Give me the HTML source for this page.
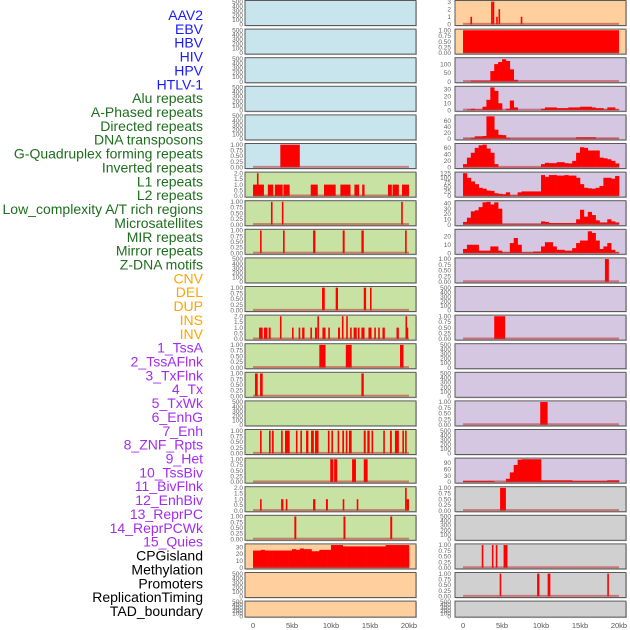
<!DOCTYPE html>
<html><head><meta charset="utf-8"><style>
html,body{margin:0;padding:0;background:#fff;}
svg{display:block;font-family:"Liberation Sans",sans-serif;}
</style></head><body>
<svg id="chart" width="630" height="630" viewBox="0 0 630 630" xmlns="http://www.w3.org/2000/svg"></svg>
<script>
const labels=["AAV2","EBV","HBV","HIV","HPV","HTLV-1","Alu repeats","A-Phased repeats","Directed repeats","DNA transposons","G-Quadruplex forming repeats","Inverted repeats","L1 repeats","L2 repeats","Low_complexity A/T rich regions","Microsatellites","MIR repeats","Mirror repeats","Z-DNA motifs","CNV","DEL","DUP","INS","INV","1_TssA","2_TssAFlnk","3_TxFlnk","4_Tx","5_TxWk","6_EnhG","7_Enh","8_ZNF_Rpts","9_Het","10_TssBiv","11_BivFlnk","12_EnhBiv","13_ReprPC","14_ReprPCWk","15_Quies","CPGisland","Methylation","Promoters","ReplicationTiming","TAD_boundary"];
const labelGroups=["v","v","v","v","v","v","r","r","r","r","r","r","r","r","r","r","r","r","r","s","s","s","s","s","c","c","c","c","c","c","c","c","c","c","c","c","c","c","c","o","o","o","o","o"];
const xTicks=[0,5,10,15,20];
const xTickLabels=["0","5kb","10kb","15kb","20kb"];
// segment data: [startKb, endKb, value]
const htlv1=[[3.5,6.0,1]];
const alu=[[0,1.4,1],[0.5,0.6,2],[1.9,2.6,1],[2.8,3.8,1],[3.9,4.7,1],[7.4,8.3,1],[9.1,10.6,1],[11.2,12.5,1],[13,13.6,1],[14,14.3,1],[17.3,17.8,1],[17.9,18.7,1],[19.1,20,1]];
const aPhased=[[2.3,2.5,1],[3.7,3.9,1],[19,19.2,1]];
const directed=[[0.9,1.1,1],[3.85,4.05,1],[7.7,8.0,1],[11.5,11.75,1],[13.9,14.2,1],[19.5,19.7,1]];
const gQuad=[[8.85,9.2,1],[10.6,10.9,1],[14.2,14.5,1],[15,15.2,1]];
const inverted=[[0.77,1.24,1],[1.41,1.84,1],[2.0,2.26,1],[3.45,3.6,2],[5.0,5.15,1],[5.85,6.0,1],[6.3,6.6,1],[7.35,7.5,1],[7.95,8.2,1],[8.25,8.4,2],[8.9,9.3,1],[9.65,9.8,1],[10.9,11.15,1],[11.4,11.55,2],[11.95,12.1,2],[12.45,12.6,1],[12.9,13.3,1],[13.45,13.6,1],[13.9,14.3,1],[14.8,15.2,1],[15.55,15.7,1],[16.05,16.2,1],[16.6,16.9,1],[18.4,18.7,1],[19.55,19.7,2],[19.7,19.8,1]];
const l1=[[8.5,9.3,1],[11.9,12.65,1],[18.85,19.3,1]];
const l2=[[0.25,0.6,1],[0.9,1.24,1],[13.9,14.2,1]];
const microsat=[[0.9,1.1,1],[2.05,2.26,1],[2.44,2.65,1],[3.6,3.8,1],[4.1,4.7,1],[5.5,5.7,1],[6.07,6.24,1],[6.8,7.1,1],[7.44,7.8,1],[7.95,8.4,1],[9.6,9.8,1],[10.05,10.26,1],[10.85,11.0,1],[11.45,11.67,1],[11.9,12.1,1],[12.3,12.65,1],[14.2,14.45,1],[14.66,14.96,1],[15.2,15.4,1],[16.7,16.9,1],[17.56,17.8,1],[18.2,18.7,1],[19.15,19.3,1],[19.5,19.7,1]];
const mir=[[9.9,10.3,1],[10.4,10.8,1],[12.7,13.2,1],[14.2,14.7,1]];
const mirror=[[0.9,1.1,1],[3.6,3.9,1],[4.2,4.4,1],[7.7,8.0,1],[9.35,9.6,1],[11.5,11.7,1],[13.3,13.5,1],[19.5,19.7,2],[19.7,20,1]];
const zdna=[[5.3,5.55,1],[11.6,11.85,1],[17.6,17.85,1]];
const ins=[[0.95,1.15,1],[3.6,3.75,3],[3.8,3.95,3],[4.25,4.45,1],[4.55,4.75,2],[7.4,7.6,1]];
const inv=[[0,20,1]];
const znf=[[18.2,18.7,1]];
const tssBiv=[[4.0,5.4,1]];
const reprPC=[[9.9,10.85,1]];
const cpg=[[4.75,5.5,1]];
const promoters=[[2.4,2.6,1],[3.7,3.9,1],[4.2,4.4,1],[5.2,5.7,1]];
const replTiming=[[4.7,4.9,1],[9.5,9.8,1],[10.85,11.2,1],[18.5,18.7,1]];
// binned profiles (0.5kb bins from 0 to 20kb)
const cnvProfile=[25,25,26,25,25,25,25,25,25,25,27,26,28,27,27,24,24,26,26,26,33,33,33,31,31,31,31,31,31,31,31,31,31,31,33,33,33,33,33,33];
const tssAProfile=[0,0,5,5,5,5,5,60,100,112,128,118,70,10,0,0,0,0,0,0,0,0,0,0,0,0,0,0,0,0,0,0,0,0,0,0,0,0,0,0];
const tssAFlnkProfile=[0,1,2,1,1,5,15,33,28,10,0,2,14,4,0,0,0,0,0,0,2,4,4,4,3,3,3,4,4,4,5,5,5,4,3,3,1,4,4,1];
const txFlnkProfile=[1,1,3,8,8,9,74,74,30,13,12,3,1,1,1,1,1,1,1,1,1,1,1,1,1,1,1,1,1,5,5,5,5,5,1,1,1,1,1,1];
const txProfile=[10,30,45,60,68,70,58,45,10,1,1,1,1,1,1,1,1,1,1,1,10,14,13,13,16,16,13,12,20,45,62,60,52,52,52,30,28,25,20,12];
const txWkProfile=[125,100,80,65,45,40,30,28,15,12,10,20,3,3,20,25,25,25,25,25,115,105,115,115,112,112,115,112,112,100,65,45,42,40,45,55,100,100,95,110];
const enhGProfile=[5,13,25,27,33,42,43,38,42,30,1,1,1,1,1,1,1,1,1,1,6,5,3,3,3,3,3,3,3,10,28,15,24,18,8,4,4,10,6,4];
const enhProfile=[5,10,10,10,3,3,3,8,8,3,1,1,12,18,10,1,1,1,2,2,8,13,13,8,4,4,3,3,6,12,15,15,26,24,15,5,8,12,4,1];
const quiesProfile=[5,5,5,5,5,5,5,5,0,0,0,15,45,80,105,107,107,107,107,107,8,8,8,8,8,8,8,8,5,5,5,5,5,5,5,5,5,8,8,8];
// tick sets
const ticksEmpty=[0,100,200,300,400,500];
const ticksUnit=[0,0.25,0.5,0.75,1];
const ticksTwo=[0,0.5,1,1.5,2];

const E=null;
const U={seg:null,ticks:ticksUnit,max:1,fmt:2};
function S(seg,ticks,max,fmt){return {seg:seg,ticks:ticks,max:max,fmt:fmt};}
function P(prof,ticks,max){return {prof:prof,ticks:ticks,max:max,fmt:0};}
const leftPanels=[E,E,E,E,E,S(htlv1,ticksUnit,1,2),S(alu,ticksTwo,2,1),S(aPhased,ticksUnit,1,2),S(directed,ticksUnit,1,2),E,S(gQuad,ticksUnit,1,2),S(inverted,ticksTwo,2,1),S(l1,ticksUnit,1,2),S(l2,ticksUnit,1,2),E,S(microsat,ticksUnit,1,2),S(mir,ticksUnit,1,2),S(mirror,ticksTwo,2,1),S(zdna,ticksUnit,1,2),P(cnvProfile,[0,10,20,30],33),E,E];
const rightPanels=[S(ins,[0,1,2,3],3,0),S(inv,ticksUnit,1,2),P(tssAProfile,[0,50,100],130),P(tssAFlnkProfile,[0,10,20,30],33),P(txFlnkProfile,[0,20,40,60],75),P(txProfile,[0,20,40,60],70),P(txWkProfile,[0,25,50,75,100,125],125),P(enhGProfile,[0,10,20,30,40],43),P(enhProfile,[0,10,20],27),S(znf,ticksUnit,1,2),E,S(tssBiv,ticksUnit,1,2),E,E,S(reprPC,ticksUnit,1,2),E,P(quiesProfile,[0,30,60,90],107),S(cpg,ticksUnit,1,2),E,S(promoters,ticksUnit,1,2),S(replTiming,ticksUnit,1,2),E];
const leftBg=["#c8e4ec","#c8e4ec","#c8e4ec","#c8e4ec","#c8e4ec","#c8e4ec","#c8e2a4","#c8e2a4","#c8e2a4","#c8e2a4","#c8e2a4","#c8e2a4","#c8e2a4","#c8e2a4","#c8e2a4","#c8e2a4","#c8e2a4","#c8e2a4","#c8e2a4","#ffcf9e","#ffcf9e","#ffcf9e"];
const rightBg=["#ffcf9e","#ffcf9e","#d5c6e2","#d5c6e2","#d5c6e2","#d5c6e2","#d5c6e2","#d5c6e2","#d5c6e2","#d5c6e2","#d5c6e2","#d5c6e2","#d5c6e2","#d5c6e2","#d5c6e2","#d5c6e2","#d5c6e2","#d0d0d0","#d0d0d0","#d0d0d0","#d0d0d0","#d0d0d0"];
const groupColor={v:"#1a1aff",r:"#1e6e1e",s:"#ffa500",c:"#a32cf0",o:"#000000"};

const svg=document.getElementById('chart');
const NS="http://www.w3.org/2000/svg";
function mk(tag,attrs,parent){const el=document.createElementNS(NS,tag);for(const k in attrs)el.setAttribute(k,attrs[k]);(parent||svg).appendChild(el);return el;}
const XMIN=-1.03,XMAX=20.9,PW=171;
const colX=[245,455];
function rowTop(i){return 0.5+28.6*i;}
function rowH(i){return i===21?16:25;}
function xScale(col,kb){return colX[col]+(kb-XMIN)/(XMAX-XMIN)*PW;}
function yScale(top,h,max,v){const lo=-0.05*max,hi=1.05*max;return top+h-(v-lo)/(hi-lo)*h;}

// labels
labels.forEach((t,i)=>{
  const el=mk('text',{x:203,y:15+i*13.86+5,'text-anchor':'end','font-size':'14',fill:groupColor[labelGroups[i]]});
  el.textContent=t;
  
  
});

function drawPanel(col,row,cfg,bg){
  const top=rowTop(row),h=rowH(row),x0=colX[col];
  const g=mk('g',{});
  
  
  mk('rect',{x:x0+1,y:top+1,width:PW,height:h,fill:'#999','fill-opacity':0.5},g);
  const bgr=mk('rect',{x:x0,y:top,width:PW,height:h,fill:bg},g);
  
  
  const ticks=cfg?cfg.ticks:ticksEmpty, max=cfg?cfg.max:500, fmt=cfg?cfg.fmt:0;
  const lx=col===0?243:451;
  ticks.forEach(v=>{
    const t=mk('text',{x:lx,y:yScale(top,h,max,v)+2.2,'text-anchor':'end','font-size':'6.5',fill:'#666'},g);
    t.textContent=v.toFixed(fmt);
    
    
  });
  if(cfg){
    const y0=yScale(top,h,max,0);
    if(cfg.seg){
      cfg.seg.forEach(s=>{
        const xa=xScale(col,s[0]),xb=xScale(col,s[1]);
        const yv=yScale(top,h,max,s[2]);
        const r=mk('rect',{x:xa,y:yv,width:Math.max(1.6,xb-xa),height:y0-yv,fill:'#ff0000'},g);
        
        
      });
    } else {
      cfg.prof.forEach((v,i)=>{
        const xa=xScale(col,i*0.5),xb=xScale(col,i*0.5+0.5);
        const yv=yScale(top,h,max,v);
        const r=mk('rect',{x:xa,y:yv,width:xb-xa+0.3,height:Math.max(0,y0-yv),fill:'#ff0000'},g);
        
        
      });
    }
    const bl=mk('rect',{x:xScale(col,0),y:y0-1.5,width:xScale(col,20)-xScale(col,0),height:2,fill:'#c03030','fill-opacity':0.55},g);
    
    
  }
  mk('rect',{x:x0,y:top,width:PW,height:h,fill:'none',stroke:'#5a5a5a','stroke-width':1},g);
}
leftPanels.forEach((c,i)=>drawPanel(0,i,c,leftBg[i]));
rightPanels.forEach((c,i)=>drawPanel(1,i,c,rightBg[i]));

[0,1].forEach(col=>{
  xTicks.forEach((v,i)=>{
    const t=mk('text',{x:xScale(col,v),y:628,'text-anchor':'middle','font-size':'7.5',fill:'#555'});
    t.textContent=xTickLabels[i];
    
    
  });
});
</script>
</body></html>
